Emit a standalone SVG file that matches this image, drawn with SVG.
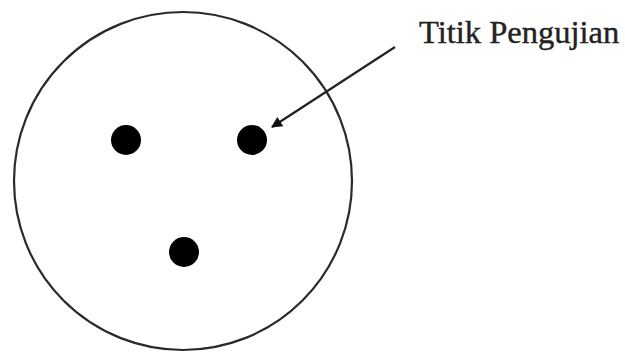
<svg xmlns="http://www.w3.org/2000/svg" width="625" height="352" viewBox="0 0 625 352">
<style>
.outline{fill:none;stroke:#2a2a2a;stroke-width:2.2}
.pt{fill:#000}
.conn{stroke:#222;stroke-width:2.2;fill:none}
.lbl{font-family:"Liberation Serif",serif;font-size:32.5px;fill:#222;stroke:#222;stroke-width:0.4}
</style>
<defs>
<marker id="ah" viewBox="0 0 10 10" refX="9" refY="5" markerWidth="15" markerHeight="11" markerUnits="userSpaceOnUse" orient="auto">
<path d="M0,0 L10,5 L0,10 z" fill="#111"/>
</marker>
</defs>
<rect width="625" height="352" fill="#fff"/>
<g id="specimen">
<circle class="outline" cx="183" cy="181" r="169"/>
</g>
<g id="point1"><circle class="pt" cx="126" cy="140" r="15"/></g>
<g id="point2"><circle class="pt" cx="252" cy="140" r="15"/></g>
<g id="point3"><circle class="pt" cx="184" cy="252" r="15"/></g>
<g id="label"><text class="lbl" x="419" y="43">Titik Pengujian</text></g>
<g id="connectors">
<line class="conn" x1="395" y1="47" x2="272" y2="127" marker-end="url(#ah)"/>
</g>
</svg>
